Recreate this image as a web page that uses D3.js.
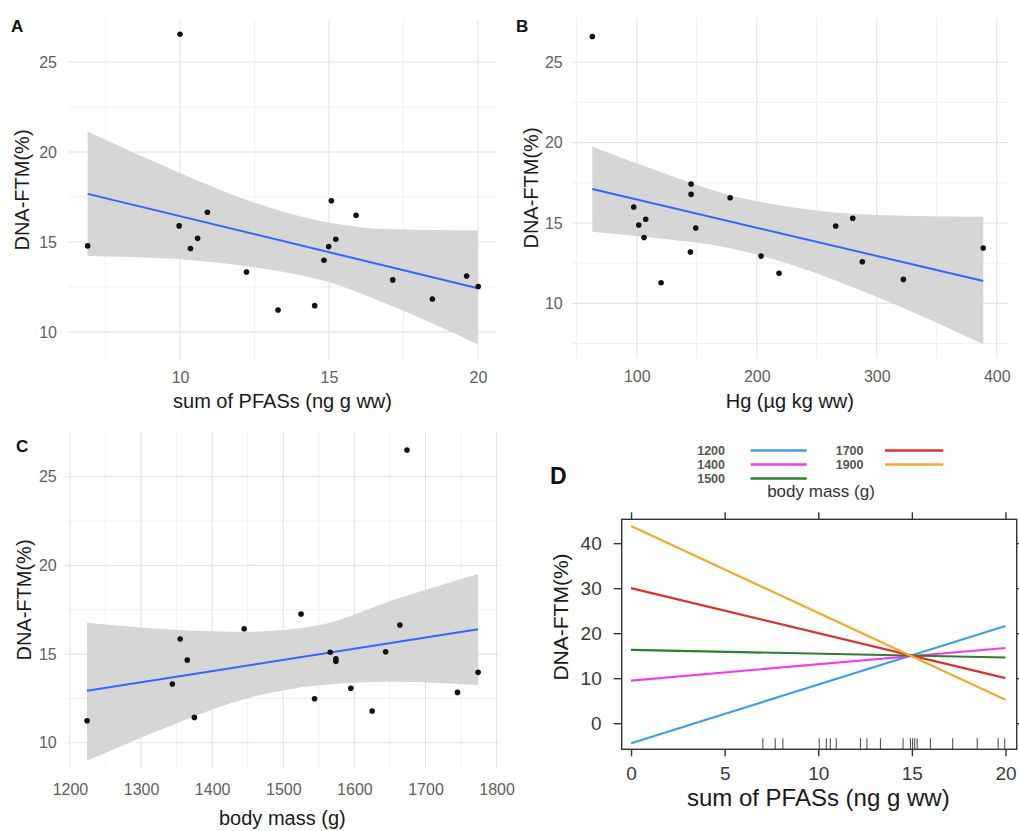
<!DOCTYPE html>
<html>
<head>
<meta charset="utf-8">
<script src="https://d3js.org/d3.v7.min.js"></script>
<style>
  body { margin: 0; background: #fff; }
  svg { font-family: "Liberation Sans", Arial, sans-serif; display: block; }
</style>
</head>
<body>
<svg id="fig"></svg>
<script>
// ---- data ----
// A: sum of PFASs vs DNA-FTM
const pfasA = [10.0, 6.9, 9.97, 10.92, 10.59, 10.35, 12.23, 13.29, 14.52, 14.83, 14.99, 15.08, 15.23, 15.91, 17.14, 18.47, 19.62, 20.01];
const dnaA  = [26.54, 14.78, 15.89, 16.65, 15.2, 14.63, 13.33, 11.22, 11.46, 13.98, 14.74, 17.29, 15.15, 16.48, 12.89, 11.83, 13.11, 12.52];
const fitAx = [6.9, 20.0];
const fitAy = [17.67, 12.43];
const bandAx  = [6.9, 9.89, 12.46, 14.92, 17.16, 20.0];
const bandAhi = [21.13, 18.91, 17.2, 16.1, 15.7, 15.63];
const bandAlo = [14.22, 14.05, 13.6, 12.8, 11.41, 9.3];

// B: Hg vs DNA-FTM
const hgB  = [63, 97.5, 101.7, 107.5, 106.1, 120.3, 145.3, 145.3, 144.7, 149.2, 177.8, 203.6, 218.6, 265.8, 280, 288, 322.2, 388.8];
const dnaB = [26.6, 15.99, 14.87, 15.23, 14.1, 11.28, 17.42, 16.78, 13.19, 14.69, 16.57, 12.94, 11.87, 14.81, 15.29, 12.59, 11.49, 13.44];
const fitBx = [63, 388.8];
const fitBy = [17.11, 11.39];
const bandBx  = [63, 119.4, 175, 230.5, 300, 388.8];
const bandBhi = [19.74, 18.19, 16.79, 15.96, 15.5, 15.39];
const bandBlo = [14.46, 14.03, 13.47, 12.36, 10.41, 7.45];

// C: body mass vs DNA-FTM
const massC = [1224, 1344, 1355, 1365, 1375, 1445, 1525, 1544, 1566, 1574, 1574, 1595, 1625, 1644, 1664, 1674, 1745, 1774];
const dnaC  = [11.24, 13.31, 15.85, 14.66, 11.43, 16.43, 17.26, 12.48, 15.1, 14.74, 14.59, 13.07, 11.79, 15.13, 16.64, 26.51, 12.84, 13.97];
const fitCx = [1224, 1774];
const fitCy = [12.93, 16.4];
const bandCx  = [1224, 1340.6, 1448.5, 1551.6, 1654.7, 1774];
const bandChi = [16.77, 16.39, 16.26, 16.64, 18.05, 19.51];
const bandClo = [8.98, 10.95, 12.5, 13.25, 13.44, 13.25];

// D: interaction effect, one line per body mass level
const massLevels = ["1200", "1400", "1500", "1700", "1900"];
const pfasRange  = [0, 20];
const effectAt0  = [-4.44, 9.47, 16.3, 30.0, 43.8];
const effectAt20 = [21.6, 16.7, 14.6, 10.0, 5.2];
const rugPfas = [7.04, 7.7, 8.11, 10.05, 10.43, 10.64, 10.96, 12.25, 12.6, 13.32, 14.53, 14.92, 15.04, 15.15, 15.28, 15.99, 17.18, 18.49, 19.61, 19.96];

const xTicksA = [10, 15, 20], xMinorA = [7.5, 12.5, 17.5];
const xTicksB = [100, 200, 300, 400], xMinorB = [50, 150, 250, 350];
const xTicksC = [1200, 1300, 1400, 1500, 1600, 1700, 1800], xMinorC = [1250, 1350, 1450, 1550, 1650, 1750];
const yTicksABC = [10, 15, 20, 25], yMinorABC = [7.5, 12.5, 17.5, 22.5];
const xTicksD = [0, 5, 10, 15, 20];
const yTicksD = [0, 10, 20, 30, 40];

const width = 1019, height = 831;
const svg = d3.select("#fig").attr("width", width).attr("height", height);

function smoothPanel(p) {
  const x = d3.scaleLinear().domain(p.xDomain).range([p.left, p.right]);
  const y = d3.scaleLinear().domain(p.yDomain).range([p.bottom, p.top]);
  const g = svg.append("g");
  const inX = v => v >= p.xDomain[0] && v <= p.xDomain[1];
  const inY = v => v >= p.yDomain[0] && v <= p.yDomain[1];

  // grid (theme_minimal)
  g.append("g").selectAll("line").data(p.xMinor.filter(inX)).join("line")
    .attr("x1", d => x(d)).attr("x2", d => x(d)).attr("y1", p.top).attr("y2", p.bottom)
    .attr("stroke", "#eeeeee").attr("stroke-width", 0.8);
  g.append("g").selectAll("line").data(p.yMinor.filter(inY)).join("line")
    .attr("y1", d => y(d)).attr("y2", d => y(d)).attr("x1", p.left).attr("x2", p.right)
    .attr("stroke", "#eeeeee").attr("stroke-width", 0.8);
  g.append("g").selectAll("line").data(p.xTicks).join("line")
    .attr("x1", d => x(d)).attr("x2", d => x(d)).attr("y1", p.top).attr("y2", p.bottom)
    .attr("stroke", "#e4e4e4").attr("stroke-width", 1.1);
  g.append("g").selectAll("line").data(p.yTicks).join("line")
    .attr("y1", d => y(d)).attr("y2", d => y(d)).attr("x1", p.left).attr("x2", p.right)
    .attr("stroke", "#e4e4e4").attr("stroke-width", 1.1);

  // confidence ribbon + fit
  g.append("path")
    .datum(d3.zip(p.bandX, p.bandLo, p.bandHi))
    .attr("d", d3.area().x(d => x(d[0])).y0(d => y(d[1])).y1(d => y(d[2])).curve(d3.curveMonotoneX))
    .attr("fill", "#d6d6d6");
  g.append("path")
    .datum(d3.zip(p.fitX, p.fitY))
    .attr("d", d3.line().x(d => x(d[0])).y(d => y(d[1])))
    .attr("fill", "none").attr("stroke", "#3366ff").attr("stroke-width", 2);

  g.append("g").selectAll("circle").data(d3.zip(p.xs, p.ys)).join("circle")
    .attr("cx", d => x(d[0])).attr("cy", d => y(d[1])).attr("r", 2.8).attr("fill", "#111");

  // axes (text only)
  g.append("g").attr("transform", `translate(0,${p.bottom})`)
    .call(d3.axisBottom(x).tickValues(p.xTicks).tickFormat(d3.format("d")).tickSize(0).tickPadding(p.xPad))
    .call(a => a.select(".domain").remove())
    .call(a => a.selectAll("text").attr("font-size", 16).attr("fill", "#606060").attr("font-family", null));
  g.append("g").attr("transform", `translate(${p.left},0)`)
    .call(d3.axisLeft(y).tickValues(p.yTicks).tickSize(0).tickPadding(p.yPad))
    .call(a => a.select(".domain").remove())
    .call(a => a.selectAll("text").attr("font-size", 16).attr("fill", "#606060").attr("font-family", null));

  g.append("text").attr("x", (p.left + p.right) / 2).attr("y", p.xTitleY)
    .attr("text-anchor", "middle").attr("font-size", 20).attr("fill", "#1a1a1a").text(p.xTitle);
  g.append("text").attr("transform", `translate(${p.yTitleX},${(p.top + p.bottom) / 2}) rotate(-90)`)
    .attr("text-anchor", "middle").attr("font-size", 20).attr("fill", "#1a1a1a").text("DNA-FTM(%)");
  g.append("text").attr("x", p.tagX).attr("y", p.tagY)
    .attr("font-size", 17).attr("font-weight", "bold").attr("fill", "#111").text(p.tag);
}

smoothPanel({
  tag: "A", tagX: 11, tagY: 32,
  left: 68, right: 497, top: 20, bottom: 360,
  xDomain: [6.24, 20.64], yDomain: [8.44, 27.33],
  xTicks: xTicksA, xMinor: xMinorA, yTicks: yTicksABC, yMinor: yMinorABC,
  xs: pfasA, ys: dnaA, fitX: fitAx, fitY: fitAy, bandX: bandAx, bandLo: bandAlo, bandHi: bandAhi,
  xPad: 12, yPad: 11, xTitle: "sum of PFASs (ng g ww)", xTitleY: 408, yTitleX: 29
});

smoothPanel({
  tag: "B", tagX: 516, tagY: 32,
  left: 571.7, right: 1008, top: 18, bottom: 358,
  xDomain: [45.8, 409.4], yDomain: [6.6, 27.75],
  xTicks: xTicksB, xMinor: xMinorB, yTicks: yTicksABC, yMinor: yMinorABC,
  xs: hgB, ys: dnaB, fitX: fitBx, fitY: fitBy, bandX: bandBx, bandLo: bandBlo, bandHi: bandBhi,
  xPad: 13, yPad: 9, xTitle: "Hg (µg kg ww)", xTitleY: 408, yTitleX: 538
});

smoothPanel({
  tag: "C", tagX: 16, tagY: 452,
  left: 65.7, right: 499, top: 431.7, bottom: 768.3,
  xDomain: [1194, 1803.4], yDomain: [8.56, 27.54],
  xTicks: xTicksC, xMinor: xMinorC, yTicks: yTicksABC, yMinor: yMinorABC,
  xs: massC, ys: dnaC, fitX: fitCx, fitY: fitCy, bandX: bandCx, bandLo: bandClo, bandHi: bandChi,
  xPad: 15, yPad: 9, xTitle: "body mass (g)", xTitleY: 825, yTitleX: 31
});

// ---- panel D (lattice effect plot) ----
const dL = 621.7, dR = 1016.7, dT = 519.3, dB = 749.3;
const xD = d3.scaleLinear().domain([-0.5, 20.6]).range([dL, dR]);
const yD = d3.scaleLinear().domain([-5.8, 45.3]).range([dB, dT]);
const colorD = d3.scaleOrdinal().domain(massLevels)
  .range(["#3d9fe3", "#f23cf0", "#2e7d32", "#e0302e", "#f2aa2e"]);
const gD = svg.append("g");

gD.append("defs").append("clipPath").attr("id", "clipD")
  .append("rect").attr("x", dL).attr("y", dT).attr("width", dR - dL).attr("height", dB - dT);

const lineD = d3.line().x(d => xD(d[0])).y(d => yD(d[1]));
gD.append("g").attr("clip-path", "url(#clipD)")
  .selectAll("path").data(massLevels).join("path")
  .attr("d", (m, i) => lineD([[pfasRange[0], effectAt0[i]], [pfasRange[1], effectAt20[i]]]))
  .attr("fill", "none").attr("stroke", m => colorD(m)).attr("stroke-width", 2.2);

// rug
gD.append("g").selectAll("line").data(rugPfas).join("line")
  .attr("x1", d => xD(d)).attr("x2", d => xD(d)).attr("y1", dB).attr("y2", dB - 11)
  .attr("stroke", "#444").attr("stroke-width", 1);

gD.append("rect").attr("x", dL).attr("y", dT).attr("width", dR - dL).attr("height", dB - dT)
  .attr("fill", "none").attr("stroke", "#333").attr("stroke-width", 1.4);

const styleD = a => {
  a.select(".domain").remove();
  a.selectAll("line").attr("stroke", "#333").attr("stroke-width", 1.4);
  a.selectAll("text").attr("font-size", 19).attr("fill", "#3a3a3a").attr("font-family", null);
};
gD.append("g").attr("transform", `translate(0,${dB})`)
  .call(d3.axisBottom(xD).tickValues(xTicksD).tickSize(7).tickPadding(10)).call(styleD);
gD.append("g").attr("transform", `translate(0,${dT})`)
  .call(d3.axisTop(xD).tickValues(xTicksD).tickSize(7).tickFormat("")).call(styleD);
gD.append("g").attr("transform", `translate(${dL},0)`)
  .call(d3.axisLeft(yD).tickValues(yTicksD).tickSize(8).tickPadding(12)).call(styleD);
gD.append("g").attr("transform", `translate(${dR},0)`)
  .call(d3.axisRight(yD).tickValues(yTicksD).tickSize(7).tickFormat("")).call(styleD);

gD.append("text").attr("x", (xD(0) + xD(20)) / 2).attr("y", 806)
  .attr("text-anchor", "middle").attr("font-size", 24).attr("fill", "#1a1a1a").text("sum of PFASs (ng g ww)");
gD.append("text").attr("transform", `translate(567.5,617) rotate(-90)`)
  .attr("text-anchor", "middle").attr("font-size", 21).attr("fill", "#1a1a1a").text("DNA-FTM(%)");
gD.append("text").attr("x", 550).attr("y", 483.5)
  .attr("font-size", 23).attr("font-weight", "bold").attr("fill", "#111").text("D");

// legend (key above the panel)
const keyCols = [{textX: 725, x1: 750.7, x2: 806.7}, {textX: 863.5, x1: 885, x2: 943.3}];
const keyRowY = [450.5, 464.5, 478.5];
const key = gD.append("g").selectAll("g").data(massLevels).join("g")
  .attr("transform", (m, i) => `translate(0,${keyRowY[i < 3 ? i : i - 3]})`);
key.append("text")
  .attr("x", (m, i) => keyCols[i < 3 ? 0 : 1].textX).attr("dy", "0.35em")
  .attr("text-anchor", "end").attr("font-size", 12.5).attr("font-weight", "bold").attr("fill", "#555")
  .text(m => m);
key.append("line")
  .attr("x1", (m, i) => keyCols[i < 3 ? 0 : 1].x1).attr("x2", (m, i) => keyCols[i < 3 ? 0 : 1].x2)
  .attr("stroke", m => colorD(m)).attr("stroke-width", 2.5);
gD.append("text").attr("x", 821).attr("y", 497)
  .attr("text-anchor", "middle").attr("font-size", 17).attr("fill", "#333").text("body mass (g)");
</script>
</body>
</html>
